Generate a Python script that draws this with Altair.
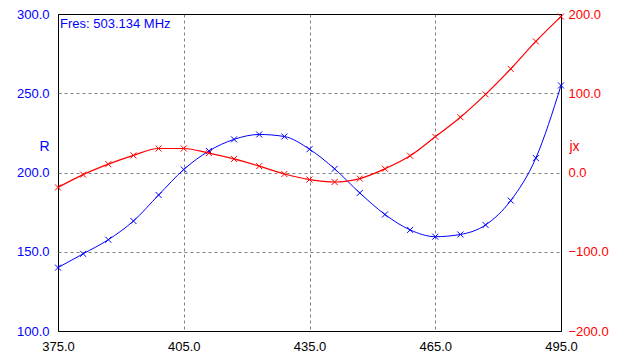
import altair as alt
import pandas as pd

freq = [375, 381, 387, 393, 399, 405, 411, 417, 423, 429, 435,
        441, 447, 453, 459, 465, 471, 477, 483, 489, 495]
r_vals = [140.0, 148.7, 157.6, 169.4, 185.8, 201.9, 213.6, 220.9, 224.0, 222.7, 214.7,
          202.3, 187.1, 173.5, 163.8, 159.5, 160.9, 166.9, 182.3, 209.1, 254.9]
jx_vals = [-18.8, -2.7, 10.5, 21.6, 30.3, 30.3, 24.5, 17.1, 8.0, -1.9, -8.9,
           -12.0, -7.7, 4.7, 21.1, 45.1, 69.8, 98.6, 130.8, 165.4, 196.7]
x_ticks = [375, 405, 435, 465, 495]
r_ticks = [100, 150, 200, 250, 300]
jx_ticks = [-200, -100, 0, 100, 200]
note = "Fres: 503.134 MHz"

df = pd.DataFrame({"freq": freq, "R": r_vals, "jx": jx_vals})

FONT = "Liberation Sans"
BLUE = "#0000FF"
RED = "#FF0000"
XSHAPE = "M-1,-1L1,1M-1,1L1,-1"


def edge_color(lo, hi):
    return {"condition": {"test": f"datum.value == {lo} || datum.value == {hi}",
                          "value": "black"}, "value": "#808080"}


def edge_dash(lo, hi):
    return {"condition": {"test": f"datum.value == {lo} || datum.value == {hi}",
                          "value": [1, 0]}, "value": [3, 3]}


xenc = alt.X("freq:Q",
             scale=alt.Scale(domain=[375, 495], nice=False, zero=False),
             axis=alt.Axis(values=x_ticks, format=".1f", title=None,
                           domain=False, ticks=False, tickSize=0,
                           labelPadding=9, labelColor="black", labelFont=FONT,
                           labelFontSize=13, grid=True,
                           gridColor=edge_color(375, 495),
                           gridDash=edge_dash(375, 495), gridOpacity=1,
                           labelFlush=False))

yR = alt.Y("R:Q",
           scale=alt.Scale(domain=[100, 300], nice=False, zero=False),
           axis=alt.Axis(values=r_ticks, format=".1f", title="R", orient="left",
                         domain=False, ticks=False, tickSize=0,
                         labelPadding=9, labelColor=BLUE, labelFont=FONT,
                         labelFontSize=13, grid=True,
                         gridColor=edge_color(100, 300),
                         gridDash=edge_dash(100, 300), gridOpacity=1,
                         labelFlush=False,
                         titleAngle=0, titleX=-9, titleY=132, titleAlign="right",
                         titleBaseline="middle", titleColor=BLUE, titleFont=FONT,
                         titleFontSize=14, titleFontWeight="normal"))

yJ = alt.Y("jx:Q",
           scale=alt.Scale(domain=[-200, 200], nice=False, zero=False),
           axis=alt.Axis(values=jx_ticks, format=".1f", title="jx", orient="right",
                         domain=False, ticks=False, tickSize=0,
                         labelPadding=7, labelColor=RED, labelFont=FONT,
                         labelFontSize=13, grid=False, labelFlush=False,
                         titleAngle=0, titleX=8, titleY=132, titleAlign="left",
                         titleBaseline="middle", titleColor=RED, titleFont=FONT,
                         titleFontSize=14, titleFontWeight="normal"))

base = alt.Chart(df)

r_layer = alt.layer(
    base.mark_line(color=BLUE, strokeWidth=1, interpolate="monotone").encode(x=xenc, y=yR),
    base.mark_point(shape=XSHAPE, size=36, filled=False, color=BLUE, strokeWidth=1,
                    opacity=1).encode(x=xenc, y=yR),
    base.mark_text(text=note, align="left", baseline="middle", color=BLUE, font=FONT,
                   fontSize=13).encode(x=alt.value(2), y=alt.value(10)).transform_filter(
        alt.datum.freq == 375),
)

j_layer = alt.layer(
    base.mark_line(color=RED, strokeWidth=1.2, interpolate="monotone").encode(x=xenc, y=yJ),
    base.mark_point(shape=XSHAPE, size=36, filled=False, color=RED, strokeWidth=1,
                    opacity=1).encode(x=xenc, y=yJ),
)

chart = alt.layer(r_layer, j_layer).resolve_scale(y="independent").properties(
    width=503, height=317,
    autosize=alt.AutoSizeParams(type="none"),
    padding={"left": 50, "top": 6, "right": 54, "bottom": 23},
    background="white",
).configure_view(stroke="black", strokeWidth=1)

chart.save("out.html", embed_options={"renderer": "svg", "actions": False})
